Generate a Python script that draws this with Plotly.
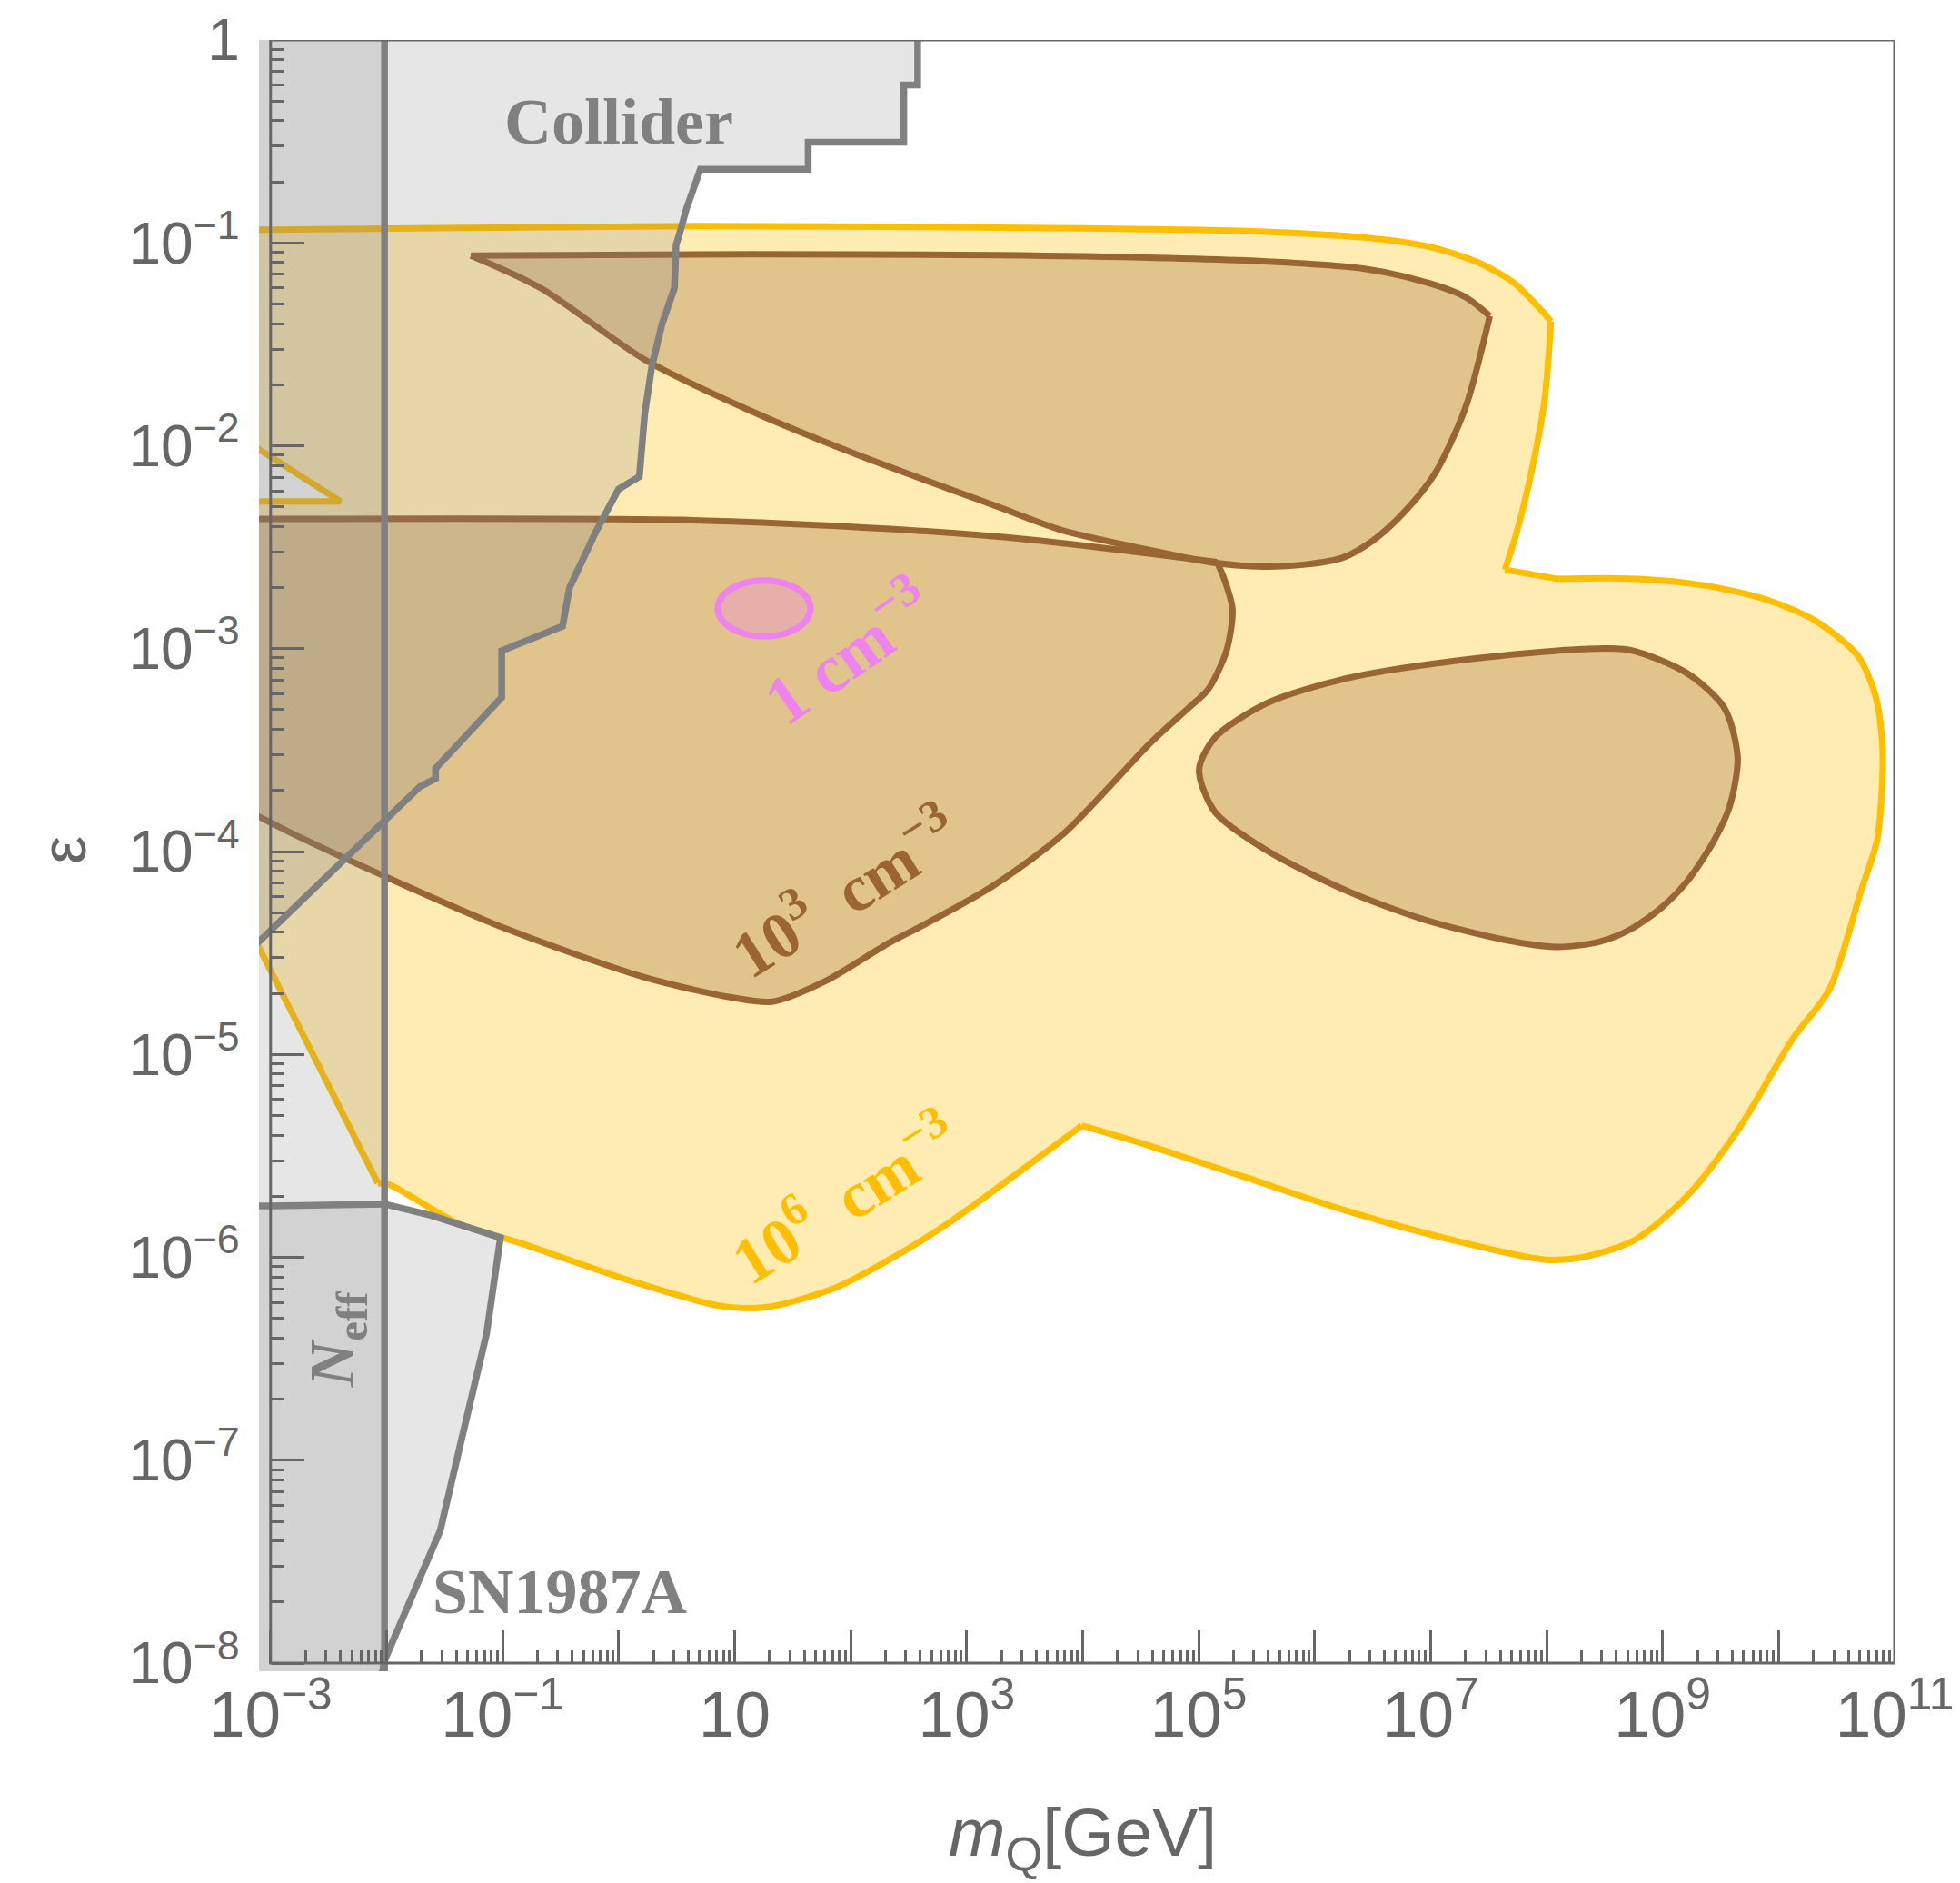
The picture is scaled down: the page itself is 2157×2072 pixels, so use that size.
import numpy as np
import plotly.graph_objects as go

# ---------------- data (m_Q in GeV, epsilon) ----------------
# 10^6 cm^-3 region (yellow)
yellow_m = [5.0e-4, 1.0e-3, 4.55, 1.94e3, 2.49e5, 2.84e6, 9.6e6, 2.54e7, 5.26e7, 8.55e7,
            1.09e8, 9.66e7, 7.55e7, 5.6e7, 4.38e7, 1.23e8, 5.98e8, 2.29e9, 7.71e9, 2.04e10,
            4.78e10, 6.78e10, 7.83e10, 7.8e10, 7.05e10, 5.15e10, 2.75e10, 1.33e10, 4.67e9, 1.65e9,
            5.79e8, 2.04e8, 9.82e7, 1.51e7, 1.86e6, 2.32e5, 2.88e4, 9.86e3, 3.30e3, 741,
            234, 74.1, 18.7, 7.43, 1.32, 0.133, 0.0420, 0.01057, 8.40e-3, 1.0e-3,
            5.0e-4, 5.0e-4, 4.01e-3, 1.0e-3, 5.0e-4]
yellow_eps = [0.116, 0.116, 0.121, 0.119, 0.1145, 0.106, 0.0959, 0.0803, 0.0634, 0.0481,
              0.0411, 0.0172, 7.83e-3, 3.85e-3, 2.45e-3, 2.21e-3, 2.21e-3, 2.05e-3, 1.75e-3, 1.38e-3,
              9.29e-4, 5.97e-4, 3.44e-4, 2.1e-4, 1.13e-4, 6.44e-5, 2.10e-5, 1.20e-5, 4.41e-6, 2.02e-6,
              1.22e-6, 1.00e-6, 9.73e-7, 1.22e-6, 1.70e-6, 2.52e-6, 3.72e-6, 4.46e-6, 2.81e-6, 1.51e-6,
              1.00e-6, 7.09e-7, 5.67e-7, 5.77e-7, 7.60e-7, 1.19e-6, 1.46e-6, 2.28e-6, 2.32e-6, 2.60e-5,
              5.70e-5, 5.32e-3, 5.32e-3, 8.83e-3, 1.14e-2]

# 10^3 cm^-3 regions (brown)
brown_upper_m = [0.0533, 13.5, 1.92e3, 2.49e5, 2.84e6, 9.6e6, 1.99e7, 3.24e7, 1.99e7, 1.08e7,
                 5.89e6, 3.20e6, 1.75e6, 8.42e5, 3.60e5, 1.36e5, 4.02e4, 6.49e3, 1.92e3, 106,
                 13.3, 1.68, 0.2117]
brown_upper_eps = [0.0866, 0.0879, 0.0869, 0.0819, 0.0742, 0.0634, 0.0541, 0.0436, 0.0153, 7.23e-3,
                   4.69e-3, 3.42e-3, 2.81e-3, 2.60e-3, 2.54e-3, 2.65e-3, 3.04e-3, 3.85e-3, 4.97e-3, 9.19e-3,
                   0.0150, 0.0266, 0.0600]

brown_lower_m = [5.0e-4, 1.0e-3, 3.48, 219, 3.46e3, 2.75e4, 1.44e5, 1.66e5, 1.96e5, 1.73e5,
                 1.20e5, 8.15e4, 3.88e4, 6.92e3, 1.74e3, 437, 219, 60, 21.1, 9.38,
                 1.67, 0.1054, 9.40e-3, 1.67e-3, 1.0e-3, 5.0e-4]
brown_lower_eps = [4.36e-3, 4.36e-3, 4.31e-3, 3.89e-3, 3.45e-3, 3.01e-3, 2.67e-3, 2.21e-3, 1.56e-3, 9.67e-4,
                   6.27e-4, 5.09e-4, 3.45e-4, 1.23e-4, 6.85e-5, 4.38e-5, 3.57e-5, 2.29e-5, 1.82e-5, 1.91e-5,
                   2.40e-5, 4.18e-5, 7.60e-5, 1.20e-4, 1.39e-4, 1.70e-4]

brown_right_m = [1.01e5, 1.38e5, 3.90e5, 1.86e6, 1.51e7, 2.04e8, 5.22e8, 1.65e9, 3.42e9, 4.44e9,
                 3.79e9, 2.77e9, 1.65e9, 9.77e8, 5.22e8, 2.79e8, 1.21e8, 4.27e7, 8.93e6, 1.86e6,
                 3.90e5, 1.38e5]
brown_right_eps = [2.53e-4, 3.64e-4, 5.39e-4, 7.13e-4, 8.66e-4, 9.96e-4, 9.85e-4, 7.53e-4, 5.09e-4, 2.91e-4,
                   1.67e-4, 1.13e-4, 7.20e-5, 5.29e-5, 4.12e-5, 3.58e-5, 3.39e-5, 3.68e-5, 4.61e-5, 6.44e-5,
                   1.01e-4, 1.57e-4]

# 1 cm^-3 region (pink ellipse) bounds
pink_m = [7.17, 45.1]
pink_eps = [1.15e-3, 2.17e-3]

# Collider bound
collider_m = [5.0e-4, 1.0e-3, 0.0194, 0.02646, 0.02646, 0.0983, 0.0983, 0.329, 0.378, 0.637,
              1.00, 1.51, 1.68, 1.93, 2.37, 3.03, 3.13, 3.35, 3.58, 3.84,
              5.07, 43.1, 43.1, 287.5, 287.5, 378.7, 378.7]
collider_eps = [2.79e-5, 4.08e-5, 2.09e-4, 2.29e-4, 2.57e-4, 5.75e-4, 9.78e-4, 1.29e-3, 2.00e-3, 3.77e-3,
                6.11e-3, 7.04e-3, 0.0144, 0.0245, 0.0399, 0.0600, 0.0978, 0.1106, 0.1302, 0.1472,
                0.2304, 0.2304, 0.313, 0.313, 0.600, 0.600, 2.0]

# SN1987A bound
sn_m = [5.0e-4, 1.0e-3, 9.6e-3, 0.0242, 0.0959, 0.0728, 0.0439, 0.0290, 9.6e-3, 7.5e-3]
sn_eps = [1.79e-6, 1.79e-6, 1.83e-6, 1.61e-6, 1.25e-6, 4.21e-7, 1.24e-7, 4.50e-8, 1.03e-8, 5.0e-9]

# N_eff bound (m_Q below this value)
neff_m = [5.0e-4, 9.6e-3, 9.6e-3, 5.0e-4]
neff_eps = [5.0e-9, 5.0e-9, 2.0, 2.0]

# outer corner used to close the gray regions (outside the plotted window)
corner_m_left = 5.0e-4
corner_eps_top = 2.0
corner_eps_bottom = 5.0e-9

# frame of the plot (axis limits)
frame_m = [1e-3, 1e11]
frame_eps = [1e-8, 1.0]

# ticks
x_labeled = [1e-3, 1e-1, 10, 1e3, 1e5, 1e7, 1e9, 1e11]
x_labeled_text = ["10<sup>\u22123</sup>", "10<sup>\u22121</sup>", "10", "10<sup>3</sup>",
                  "10<sup>5</sup>", "10<sup>7</sup>", "10<sup>9</sup>", "10<sup>11</sup>"]
x_unlabeled = [1e-2, 1, 1e2, 1e4, 1e6, 1e8, 1e10]
y_major = [1e-8, 1e-7, 1e-6, 1e-5, 1e-4, 1e-3, 1e-2, 1e-1, 1]
y_major_text = ["10<sup>\u22128</sup>", "10<sup>\u22127</sup>", "10<sup>\u22126</sup>", "10<sup>\u22125</sup>",
                "10<sup>\u22124</sup>", "10<sup>\u22123</sup>", "10<sup>\u22122</sup>", "10<sup>\u22121</sup>", "1"]
x_minor = [k * 10.0 ** n for n in range(-3, 11) for k in range(2, 10)]
y_minor = [k * 10.0 ** n for n in range(-8, 0) for k in range(2, 10)]

# ---------------- styles ----------------
YELLOW = "#FFBF00"
YELLOW_FILL = "rgba(255,191,0,0.3)"
BROWN = "#996633"
BROWN_FILL = "rgba(153,102,51,0.3)"
PINK = "#EE82EE"
PINK_FILL = "rgba(238,130,238,0.3)"
GRAY = "#808080"
GRAY_FILL = "rgba(128,128,128,0.2)"
AXIS = "#666666"
SERIF = "Liberation Serif, Times New Roman, serif"
SANS = "Liberation Sans, Arial, sans-serif"

# visible window is padded a little beyond the frame (fills spill over like the original)
X_RANGE = [-3.1, 11]
Y_RANGE = [-8.04, 0]
X_AXIS_POS = 0.04 / 8.04
Y_AXIS_POS = 0.1 / 14.1

# boundary pieces: (point indices, line shape) -- corners split the smooth pieces
yellow_pieces = [(list(range(0, 11)), "spline"), (list(range(10, 15)), "spline"),
                 ([14, 15], "linear"), (list(range(15, 38)), "spline"),
                 (list(range(37, 49)), "spline"), ([48, 49, 50], "linear"),
                 ([51, 52, 53, 54], "linear")]
brown_upper_pieces = [(list(range(0, 8)), "spline"), (list(range(7, 23)) + [0], "spline")]
brown_lower_pieces = [(list(range(0, 7)), "spline"), (list(range(6, 26)), "spline")]

fig = go.Figure()


def fill_only(m, e, fill):
    fig.add_trace(go.Scatter(x=m, y=e, mode="lines", fill="toself", fillcolor=fill,
                             line=dict(color="rgba(0,0,0,0)", width=0),
                             hoverinfo="skip", showlegend=False))


def pieces(m, e, parts, color, width):
    for idx, shp in parts:
        fig.add_trace(go.Scatter(x=[m[i] for i in idx], y=[e[i] for i in idx], mode="lines",
                                 line=dict(color=color, width=width, shape=shp, smoothing=0.8),
                                 hoverinfo="skip", showlegend=False))


def curve(m, e, color, width):
    fig.add_trace(go.Scatter(x=m, y=e, mode="lines", line=dict(color=color, width=width),
                             hoverinfo="skip", showlegend=False))


# yellow region
fill_only(yellow_m, yellow_eps, YELLOW_FILL)
pieces(yellow_m, yellow_eps, yellow_pieces, YELLOW, 7)

# brown regions
fill_only(brown_lower_m, brown_lower_eps, BROWN_FILL)
pieces(brown_lower_m, brown_lower_eps, brown_lower_pieces, BROWN, 7)
fill_only(brown_upper_m, brown_upper_eps, BROWN_FILL)
pieces(brown_upper_m, brown_upper_eps, brown_upper_pieces, BROWN, 7)
br_m = brown_right_m + brown_right_m[:1]
br_e = brown_right_eps + brown_right_eps[:1]
fig.add_trace(go.Scatter(x=br_m, y=br_e, mode="lines", fill="toself", fillcolor=BROWN_FILL,
                         line=dict(color=BROWN, width=7, shape="spline", smoothing=0.8),
                         hoverinfo="skip", showlegend=False))

# gray (translucent) exclusion regions on top
fill_only(collider_m + [corner_m_left], collider_eps + [corner_eps_top], GRAY_FILL)
fill_only(neff_m, neff_eps, GRAY_FILL)
fill_only(sn_m + [corner_m_left], sn_eps + [corner_eps_bottom], GRAY_FILL)
curve(collider_m, collider_eps, GRAY, 7.5)
curve(sn_m, sn_eps, GRAY, 7.5)
curve(neff_m[1:3], neff_eps[1:3], GRAY, 7.5)

# invisible anchor trace for the secondary x axis (unlabelled decade ticks)
fig.add_trace(go.Scatter(x=[1.0], y=[1e-4], xaxis="x2", yaxis="y", mode="markers",
                         marker=dict(opacity=0), hoverinfo="skip", showlegend=False))

# pink ellipse (1 cm^-3)
fig.add_shape(type="circle", xref="x", yref="y", x0=pink_m[0], x1=pink_m[1],
              y0=pink_eps[0], y1=pink_eps[1], fillcolor=PINK_FILL,
              line=dict(color=PINK, width=7), layer="above")

# frame
fig.add_shape(type="rect", xref="x", yref="y", x0=frame_m[0], x1=frame_m[1],
              y0=frame_eps[0], y1=frame_eps[1], line=dict(color=AXIS, width=3),
              fillcolor="rgba(0,0,0,0)", layer="above")


# labels (annotation positions given in log10 units)
def label(text, m, e, color, size, angle=0, family=SERIF):
    fig.add_annotation(x=np.log10(m), y=np.log10(e), xref="x", yref="y", text=text,
                       showarrow=False, textangle=angle,
                       font=dict(family=family, size=size, color=color),
                       xanchor="center", yanchor="middle")


label("<b>Collider</b>", 1.0, 10 ** -0.405, GRAY, 72)
label("<b>SN1987A</b>", 0.31, 2.24e-8, GRAY, 70)
label("<b><i>N</i><sub>eff</sub></b>", 10 ** -2.428, 10 ** -6.403, GRAY, 70, angle=-90)
label("<b>1 cm<sup>\u22123</sup></b>", 10 ** 1.967, 10 ** -3.007, PINK, 75, angle=-35)
label("<b>10<sup>3</sup>\u00a0 cm<sup>\u22123</sup></b>", 10 ** 1.94, 10 ** -4.19, BROWN, 72, angle=-32)
label("<b>10<sup>6</sup>\u00a0 cm<sup>\u22123</sup></b>", 10 ** 1.94, 10 ** -5.70, YELLOW, 72, angle=-32)

# axis titles
fig.add_annotation(x=0.5037, y=-0.1014, xref="paper", yref="paper",
                   text="<i>m</i><sub>Q</sub>[GeV]", showarrow=False,
                   font=dict(family=SANS, size=75, color=AXIS), xanchor="center", yanchor="middle")
fig.add_annotation(x=-0.1195, y=0.5035, xref="paper", yref="paper",
                   text="\u03b5", showarrow=False, textangle=-90,
                   font=dict(family=SANS, size=70, color=AXIS), xanchor="center", yanchor="middle")

tick_common = dict(type="log", showline=False, ticks="inside", ticklen=36, tickwidth=3,
                   tickcolor=AXIS, showgrid=False, zeroline=False)

fig.update_layout(
    xaxis=dict(range=X_RANGE, tickmode="array", tickvals=x_labeled, ticktext=x_labeled_text,
               anchor="free", position=X_AXIS_POS,
               minor=dict(tickmode="array", tickvals=x_minor, ticks="inside", ticklen=14,
                          tickwidth=2.5, tickcolor=AXIS, showgrid=False),
               tickfont=dict(family=SANS, size=71, color=AXIS),
               ticklabelstandoff=9, **tick_common),
    xaxis2=dict(range=X_RANGE, overlaying="x", anchor="free", position=X_AXIS_POS, side="bottom",
                tickmode="array", tickvals=x_unlabeled, showticklabels=False, **tick_common),
    yaxis=dict(range=Y_RANGE, tickmode="array", tickvals=y_major, ticktext=y_major_text,
               anchor="free", position=Y_AXIS_POS,
               minor=dict(tickmode="array", tickvals=y_minor, ticks="inside", ticklen=14,
                          tickwidth=2.5, tickcolor=AXIS, showgrid=False),
               tickfont=dict(family=SANS, size=64, color=AXIS),
               ticklabelstandoff=34, **tick_common),
    width=2157, height=2072,
    margin=dict(l=277, r=80, t=36, b=241, autoexpand=False),
    paper_bgcolor="white", plot_bgcolor="white", showlegend=False,
)

fig.write_html("out.html")
